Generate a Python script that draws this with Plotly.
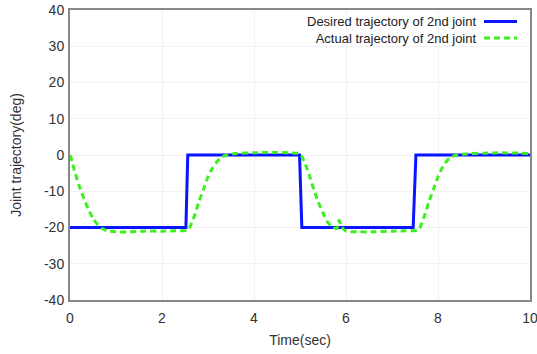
import plotly.graph_objects as go

# Data
desired_t = [0, 2.52, 2.56, 4.99, 5.04, 7.46, 7.52, 10]
desired_y = [-20, -20, 0, 0, -20, -20, 0, 0]

actual_t = [0, 0.05, 0.1, 0.2, 0.3, 0.4, 0.5, 0.6, 0.7, 0.8, 1.0, 1.3, 1.6, 2.0, 2.3, 2.55,
            2.6, 2.7, 2.8, 2.9, 3.0, 3.1, 3.2, 3.3, 3.4, 3.6, 4.0, 4.4, 4.8, 5.0,
            5.1, 5.2, 5.3, 5.4, 5.5, 5.6, 5.7, 5.8, 5.85, 5.9, 6.0, 6.3, 6.6, 7.0, 7.3, 7.55,
            7.6, 7.7, 7.8, 7.9, 8.0, 8.1, 8.2, 8.3, 8.4, 8.6, 9.0, 9.4, 9.8, 10]
actual_y = [0, -2, -4.5, -8.5, -12, -15, -17.5, -19.2, -20.3, -20.9, -21.2, -21.2, -21, -21, -20.9, -20.8,
            -20, -17, -13, -9.5, -6, -3.5, -1.8, -0.6, 0, 0.4, 0.6, 0.7, 0.6, 0.3,
            -2, -5.5, -9.5, -13, -16, -18.5, -19.8, -20.3, -18, -19.8, -21, -21.2, -21.2, -21, -20.9, -20.8,
            -20.2, -17, -13, -9.5, -6, -3.3, -1.5, -0.5, 0, 0.3, 0.5, 0.6, 0.5, 0.4]

series_names = ["Desired trajectory of 2nd joint", "Actual trajectory of 2nd joint"]
x_ticks = [0, 2, 4, 6, 8, 10]
y_ticks = [-40, -30, -20, -10, 0, 10, 20, 30, 40]
y_tick_labels = ["-40", "-30", "-20", "-10", "0", "10", "20", "30", "40"]

BLUE = "#0a14ff"
GREEN = "#3cf01e"
FONT = "Liberation Sans, Arial"

fig = go.Figure()
fig.add_trace(go.Scatter(x=desired_t, y=desired_y, mode="lines", name=series_names[0],
                         line=dict(color=BLUE, width=3), showlegend=False))
fig.add_trace(go.Scatter(x=actual_t, y=actual_y, mode="lines", name=series_names[1],
                         line=dict(color=GREEN, width=3, dash="6px,4px", shape="spline", smoothing=0.6),
                         showlegend=False))

FIG_W, FIG_H = 537, 354
L, R, T, B = 70, 537 - 530, 10, 354 - 300
W, H = 460.0, 290.0

def px(x):
    return (x - 70) / W
def py(y):
    return (300 - y) / H

# Manual legend (text right-aligned, sample line to its right)
fig.add_annotation(x=px(478), y=py(30.5), xref="paper", yref="paper",
                   text="<br>".join(series_names), align="right",
                   showarrow=False, xanchor="right", yanchor="middle",
                   font=dict(family=FONT, size=13, color="#222"))
legend_samples = [(BLUE, "solid", 21.5), (GREEN, "6px,4px", 38)]
for color, dash, yy in legend_samples:
    fig.add_shape(type="line", xref="paper", yref="paper", x0=px(484), x1=px(517),
                  y0=py(yy), y1=py(yy), line=dict(color=color, width=3, dash=dash))

fig.update_layout(
    width=FIG_W, height=FIG_H,
    margin=dict(l=L, r=R, t=T, b=B),
    paper_bgcolor="white", plot_bgcolor="white",
    font=dict(family=FONT, size=14, color="#333"),
    xaxis=dict(range=[0, 10], tickvals=x_ticks, showline=True, mirror=True, linecolor="#888",
               linewidth=2, showgrid=True, gridcolor="#f2f2f2", zeroline=False, ticks="",
               automargin=False, ticklabelstandoff=4, ticklabeloverflow="allow",
               title=dict(text="Time(sec)", font=dict(size=14), standoff=10)),
    yaxis=dict(range=[-40, 40], tickvals=y_ticks, ticktext=y_tick_labels, showline=True, mirror=True,
               linecolor="#888", linewidth=2, showgrid=True, gridcolor="#f2f2f2", zeroline=False,
               ticks="", automargin=False, ticklabelstandoff=1, ticklabeloverflow="allow",
               title=dict(text="Joint trajectory(deg)", font=dict(size=14), standoff=19)),
)

# Remove the default 8px page margin so the figure fills the window exactly.
fig.write_html("out.html", config={"displayModeBar": False},
               post_script="document.body.style.margin='0';document.body.style.overflow='hidden';")
